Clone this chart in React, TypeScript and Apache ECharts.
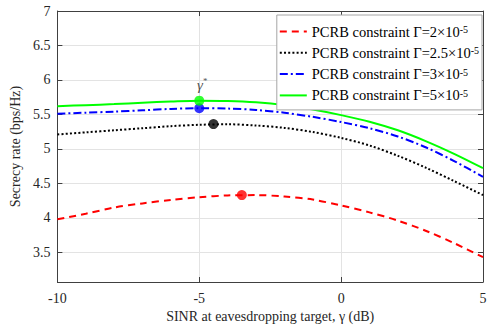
import React, { useEffect, useRef } from "react";
import * as echarts from "echarts";

const xs = [-10, -9, -8, -7, -6, -5, -4, -3, -2, -1, 0, 1, 2, 3, 4, 5];
const red = [3.98, 4.06, 4.15, 4.21, 4.26, 4.3, 4.325, 4.33, 4.31, 4.265, 4.18, 4.08, 3.96, 3.81, 3.63, 3.43];
const black = [5.21, 5.24, 5.27, 5.3, 5.33, 5.35, 5.357, 5.34, 5.305, 5.245, 5.16, 5.05, 4.9, 4.725, 4.53, 4.33];
const blue = [5.51, 5.525, 5.54, 5.56, 5.58, 5.59, 5.585, 5.565, 5.525, 5.465, 5.39, 5.3, 5.18, 5.02, 4.82, 4.595];
const green = [5.62, 5.635, 5.65, 5.67, 5.687, 5.7, 5.695, 5.675, 5.635, 5.57, 5.49, 5.395, 5.27, 5.11, 4.925, 4.72];

const gammaLabels = ["2", "2.5", "3", "5"];
const colors = ["#FF0000", "#000000", "#0000FF", "#00FF00"];
const dashTypes: any[] = [[7, 5], [2, 2.2], [8, 3, 2, 3], "solid"];
const peakX = [-3.5, -4.5, -5, -5];
const peakY = [4.33, 5.36, 5.59, 5.7];
const yTicks = [3.5, 4, 4.5, 5, 5.5, 6, 6.5, 7];

const FONT = "Liberation Serif";
const AXIS = "#404040";

export default function App() {
  const ref = useRef<HTMLDivElement>(null);
  useEffect(() => {
    if (!ref.current) return;
    const chart = echarts.init(ref.current, undefined, { renderer: "svg" });
    const allVals = [red, black, blue, green];
    const names = gammaLabels.map((g) => `PCRB constraint Γ=${g}×10-5`);
    const lineSeries = allVals.map((vals, i) => ({
      type: "line",
      name: names[i],
      data: xs.map((x, j) => [x, vals[j]]),
      smooth: 0.3,
      symbol: "none",
      lineStyle: { color: colors[i], width: 2, type: dashTypes[i] },
      itemStyle: { color: colors[i] },
      z: 3,
    }));
    const markerSeries = peakX.map((px, i) => ({
      type: "scatter",
      name: "peak" + i,
      data: [[px, peakY[i]]],
      symbol: "circle",
      symbolSize: 10,
      itemStyle: { color: colors[i] },
      z: 5 + i,
      label:
        i === 3
          ? {
              show: true,
              position: "top",
              distance: 3,
              offset: [3, 0],
              fontFamily: FONT,
              formatter: "{g|γ}{s|*}",
              rich: {
                g: { fontFamily: FONT, fontSize: 15, fontStyle: "italic", color: "#262626", lineHeight: 16 },
                s: { fontFamily: FONT, fontSize: 9, color: "#262626", verticalAlign: "top", lineHeight: 8 },
              },
            }
          : { show: false },
    }));
    const hiddenAxis = {
      axisLabel: { show: false },
      splitLine: { show: false },
      axisLine: { show: true, onZero: false, lineStyle: { color: AXIS, width: 1 } },
    };
    chart.setOption({
      animation: false,
      backgroundColor: "#ffffff",
      textStyle: { fontFamily: FONT },
      grid: { left: 44, right: 8, top: 11, bottom: 47 },
      legend: {
        data: names,
        orient: "vertical",
        right: 9,
        top: 15,
        backgroundColor: "#ffffff",
        borderColor: "#a6a6a6",
        borderWidth: 1,
        borderRadius: 0,
        padding: [9, 3, 7, 2],
        itemGap: 6.3,
        itemWidth: 27,
        itemHeight: 14,
        itemStyle: { opacity: 0 },
        formatter: (name: string) => {
          const base = name.replace(/-5$/, "");
          return `{a|${base}}{s|-5}`;
        },
        textStyle: {
          color: "#000",
          fontFamily: FONT,
          fontSize: 14.5,
          rich: {
            a: { fontFamily: FONT, fontSize: 14.5, lineHeight: 14, color: "#000" },
            s: { fontFamily: FONT, fontSize: 10, lineHeight: 8, verticalAlign: "top", color: "#000" },
          },
        },
      },
      xAxis: [
        {
          type: "value",
          min: -10,
          max: 5,
          interval: 5,
          name: "SINR at eavesdropping target, γ (dB)",
          nameLocation: "middle",
          nameGap: 25,
          nameTextStyle: { fontFamily: FONT, fontSize: 14, color: "#262626" },
          axisLine: { show: true, onZero: false, lineStyle: { color: AXIS, width: 1 } },
          axisTick: { show: true, inside: true, length: 5, lineStyle: { color: AXIS } },
          axisLabel: { fontFamily: FONT, fontSize: 14, color: "#262626", margin: 9 },
          splitLine: { show: true, lineStyle: { color: "#e3e3e3", width: 1 } },
        },
        {
          type: "value",
          position: "top",
          min: -10,
          max: 5,
          interval: 5,
          ...hiddenAxis,
          axisTick: { show: true, inside: true, length: 5, lineStyle: { color: AXIS } },
        },
      ],
      yAxis: [
        {
          type: "value",
          min: 3.07,
          max: 7,
          name: "Secrecy rate (bps/Hz)",
          nameLocation: "middle",
          nameGap: 33,
          nameTextStyle: { fontFamily: FONT, fontSize: 14, color: "#262626" },
          axisLine: { show: true, onZero: false, lineStyle: { color: AXIS, width: 1 } },
          axisTick: { show: true, inside: true, length: 5, lineStyle: { color: AXIS }, customValues: yTicks },
          axisLabel: {
            fontFamily: FONT,
            fontSize: 14,
            color: "#262626",
            margin: 7,
            customValues: yTicks,
            formatter: (v: number) => String(v),
          },
          splitLine: { show: true, lineStyle: { color: "#e3e3e3", width: 1 } },
        },
        {
          type: "value",
          position: "right",
          min: 3.07,
          max: 7,
          ...hiddenAxis,
          axisTick: { show: true, inside: true, length: 5, lineStyle: { color: AXIS }, customValues: yTicks },
        },
      ],
      series: [...lineSeries, ...markerSeries],
    });
    return () => chart.dispose();
  }, []);
  return (
    <div
      ref={ref}
      style={{ position: "fixed", left: 0, top: 0, width: 491, height: 329, background: "#fff" }}
    />
  );
}
